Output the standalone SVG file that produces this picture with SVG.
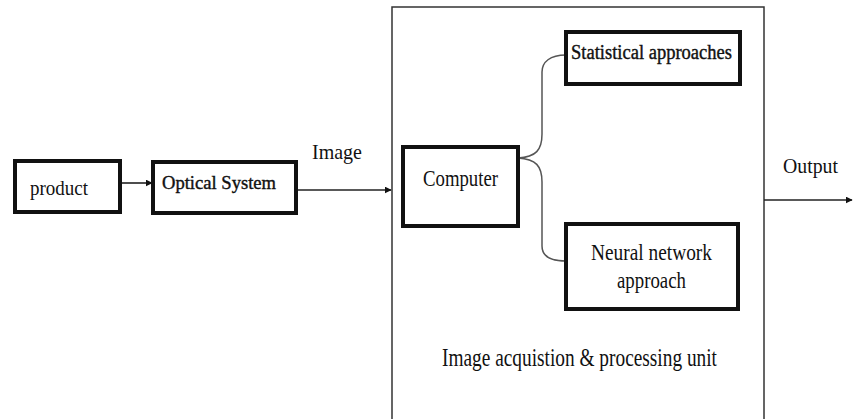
<svg xmlns="http://www.w3.org/2000/svg" width="853" height="419" viewBox="0 0 853 419">
  <style>
    .box { fill: #fff; stroke: #111; stroke-width: 4; }
    .unit { fill: none; stroke: #333; stroke-width: 1.5; }
    .lbl { font-family: "Liberation Serif", "DejaVu Serif", "Times New Roman", serif; fill: #111; }
    .heavy { stroke: #111; stroke-width: 0.4; }
    .wire { fill: none; stroke: #222; stroke-width: 1.6; }
    .branch { fill: none; stroke: #555; stroke-width: 1.5; }
  </style>
  <defs>
    <marker id="arrow" viewBox="0 0 10 10" refX="9" refY="5" markerWidth="7" markerHeight="7" markerUnits="userSpaceOnUse" orient="auto">
      <path d="M0,0 L10,5 L0,10 z" fill="#111"/>
    </marker>
  </defs>
  <rect width="853" height="419" fill="#fff"/>

  <!-- processing unit enclosure (runs off the bottom edge) -->
  <g id="unit">
    <rect class="unit" x="392" y="7" width="372" height="430"/>
    <text class="lbl" x="442" y="366" font-size="25" textLength="275" lengthAdjust="spacingAndGlyphs">Image acquistion &amp; processing unit</text>
  </g>

  <g id="connectors">
    <line class="wire" x1="120" y1="183" x2="152" y2="183" marker-end="url(#arrow)"/>
    <line class="wire" x1="296" y1="190" x2="391" y2="190" marker-end="url(#arrow)"/>
    <text class="lbl" x="312" y="159" font-size="22" textLength="50" lengthAdjust="spacingAndGlyphs">Image</text>
    <path class="branch" d="M518,158 C536,157 542,150 542,134 L542,72 C542,62 550,55 566,55"/>
    <path class="branch" d="M518,158 C536,159 542,166 542,182 L542,246 C542,256 550,261 566,261"/>
    <line class="wire" x1="764" y1="200" x2="852" y2="200" marker-end="url(#arrow)"/>
    <text class="lbl" x="783" y="173" font-size="22" textLength="55" lengthAdjust="spacingAndGlyphs">Output</text>
  </g>

  <g id="product">
    <rect class="box" x="15" y="161" width="105" height="51"/>
    <text class="lbl" x="30" y="195" font-size="21" textLength="58" lengthAdjust="spacingAndGlyphs">product</text>
  </g>

  <g id="optical-system">
    <rect class="box" x="153" y="162" width="143" height="51"/>
    <text class="lbl heavy" x="162" y="189" font-size="19" textLength="114" lengthAdjust="spacingAndGlyphs">Optical System</text>
  </g>

  <g id="computer">
    <rect class="box" x="403" y="147" width="115" height="79"/>
    <text class="lbl" x="423" y="186" font-size="24" textLength="75" lengthAdjust="spacingAndGlyphs">Computer</text>
  </g>

  <g id="statistical">
    <rect class="box" x="566" y="32" width="174" height="52"/>
    <text class="lbl heavy" x="571" y="59" font-size="20" textLength="161" lengthAdjust="spacingAndGlyphs">Statistical approaches</text>
  </g>

  <g id="neural">
    <rect class="box" x="566" y="224" width="172" height="85"/>
    <text class="lbl" x="591" y="260" font-size="24" textLength="121" lengthAdjust="spacingAndGlyphs">Neural network</text>
    <text class="lbl" x="617" y="288" font-size="24" textLength="69" lengthAdjust="spacingAndGlyphs">approach</text>
  </g>
</svg>
